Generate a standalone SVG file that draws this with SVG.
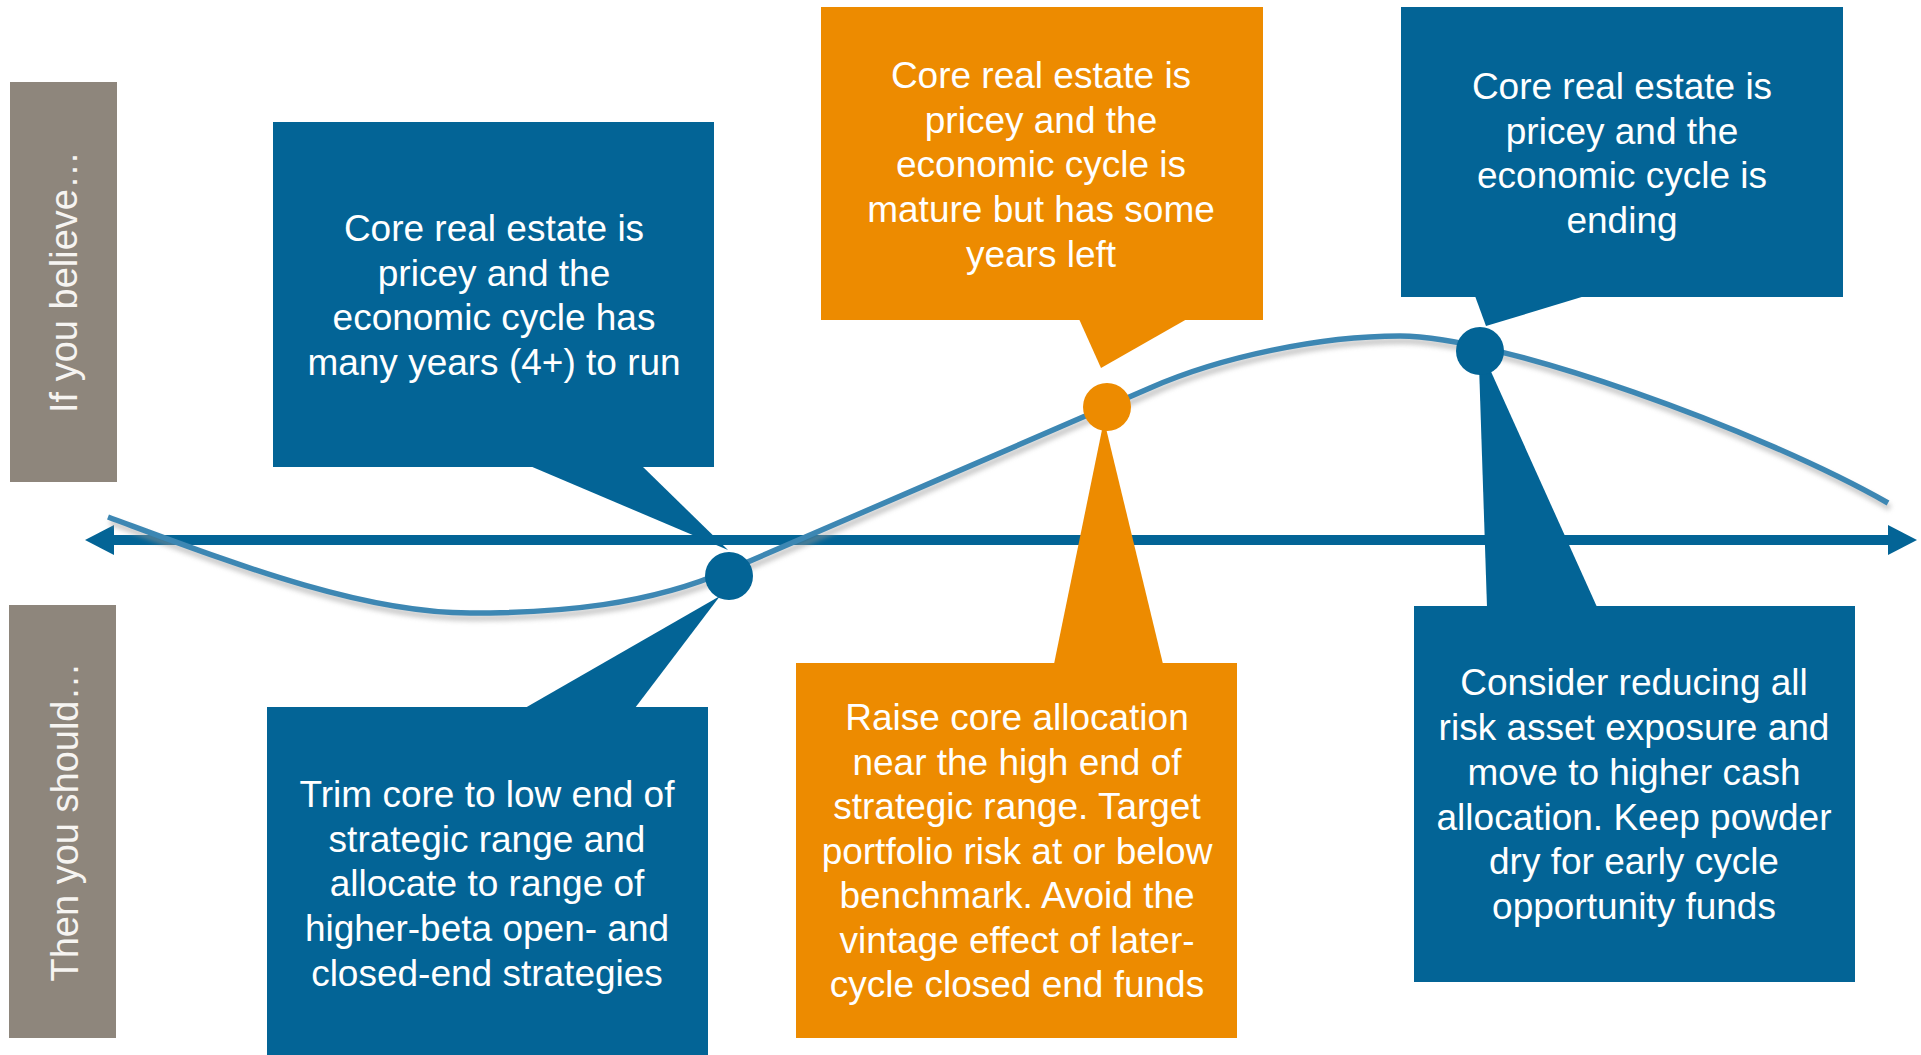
<svg xmlns="http://www.w3.org/2000/svg" width="1921" height="1055" viewBox="0 0 1921 1055">
<style>
.bg{fill:#ffffff}
.side{fill:#8e867c}
.sidet{fill:#f6f4f1;font-family:"Liberation Sans",Arial,sans-serif;font-size:38px;text-anchor:middle}
.blue{fill:#036496}
.orange{fill:#ed8b00}
.t{fill:#ffffff;font-family:"Liberation Sans",Arial,sans-serif;font-size:37px;text-anchor:middle}
.axis{stroke:#036496;stroke-width:10;fill:none}
.curve{stroke:#3d87b3;stroke-width:5.5;fill:none}
.shadow{stroke:#9a9a9a;stroke-width:6;fill:none;opacity:0.55}
</style>
<defs>
<marker id="arr" viewBox="0 0 29 30" refX="1" refY="15" markerWidth="29" markerHeight="30" markerUnits="userSpaceOnUse" orient="auto-start-reverse">
<path d="M0,0 L29,15 L0,30 z" fill="#036496"/>
</marker>
<filter id="blur" x="-5%" y="-20%" width="110%" height="140%">
<feGaussianBlur stdDeviation="2.5"/>
</filter>
</defs>
<rect class="bg" x="0" y="0" width="1921" height="1055"/>

<g id="label-believe">
<rect class="side" x="10" y="82" width="107" height="400"/>
<text class="sidet" transform="translate(77,282) rotate(-90)">If you believe…</text>
</g>
<g id="label-should">
<rect class="side" x="9" y="605" width="107" height="433"/>
<text class="sidet" transform="translate(78,822) rotate(-90)">Then you should…</text>
</g>

<g id="connectors">
<line class="axis" x1="113" y1="540" x2="1889" y2="540" marker-start="url(#arr)" marker-end="url(#arr)"/>
<path class="shadow" filter="url(#blur)" transform="translate(2,5)" d="M108,517 C230,562 360,613 470,613 C560,613 649,605 729,570 C860,513 1020,445 1150,388 C1220,357 1320,336 1400,336 C1500,336 1760,430 1888,503"/>
<path class="curve" d="M108,517 C230,562 360,613 470,613 C560,613 649,605 729,570 C860,513 1020,445 1150,388 C1220,357 1320,336 1400,336 C1500,336 1760,430 1888,503"/>
</g>

<g id="belief-early">
<polygon class="blue" points="530,466 642,466 728,550"/>
<rect class="blue" x="273" y="122" width="441" height="345"/>
<text class="t"><tspan x="494" y="241">Core real estate is</tspan><tspan x="494" y="286">pricey and the</tspan><tspan x="494" y="330">economic cycle has</tspan><tspan x="494" y="375">many years (4+) to run</tspan></text>
</g>

<g id="action-early">
<polygon class="blue" points="525,708 635,708 720,596"/>
<rect class="blue" x="267" y="707" width="441" height="348"/>
<text class="t"><tspan x="487" y="807">Trim core to low end of</tspan><tspan x="487" y="852">strategic range and</tspan><tspan x="487" y="896">allocate to range of</tspan><tspan x="487" y="941">higher-beta open- and</tspan><tspan x="487" y="986">closed-end strategies</tspan></text>
</g>

<g id="belief-mid">
<polygon class="orange" points="1079,319 1187,319 1101,368"/>
<rect class="orange" x="821" y="7" width="442" height="313"/>
<text class="t"><tspan x="1041" y="88">Core real estate is</tspan><tspan x="1041" y="133">pricey and the</tspan><tspan x="1041" y="177">economic cycle is</tspan><tspan x="1041" y="222">mature but has some</tspan><tspan x="1041" y="267">years left</tspan></text>
</g>

<g id="action-mid">
<polygon class="orange" points="1054,664 1163,664 1104,420"/>
<rect class="orange" x="796" y="663" width="441" height="375"/>
<text class="t"><tspan x="1017" y="730">Raise core allocation</tspan><tspan x="1017" y="775">near the high end of</tspan><tspan x="1017" y="819">strategic range. Target</tspan><tspan x="1017" y="864">portfolio risk at or below</tspan><tspan x="1017" y="908">benchmark. Avoid the</tspan><tspan x="1017" y="953">vintage effect of later-</tspan><tspan x="1017" y="997">cycle closed end funds</tspan></text>
</g>

<g id="belief-late">
<polygon class="blue" points="1475,296 1585,296 1486,326"/>
<rect class="blue" x="1401" y="7" width="442" height="290"/>
<text class="t"><tspan x="1622" y="99">Core real estate is</tspan><tspan x="1622" y="144">pricey and the</tspan><tspan x="1622" y="188">economic cycle is</tspan><tspan x="1622" y="233">ending</tspan></text>
</g>

<g id="action-late">
<polygon class="blue" points="1479,365 1487,607 1597,607 1488,365"/>
<rect class="blue" x="1414" y="606" width="441" height="376"/>
<text class="t"><tspan x="1634" y="695">Consider reducing all</tspan><tspan x="1634" y="740">risk asset exposure and</tspan><tspan x="1634" y="785">move to higher cash</tspan><tspan x="1634" y="830">allocation. Keep powder</tspan><tspan x="1634" y="874">dry for early cycle</tspan><tspan x="1634" y="919">opportunity funds</tspan></text>
</g>

<g id="dots">
<circle class="blue" cx="729" cy="576" r="24"/>
<circle class="orange" cx="1107" cy="407" r="24"/>
<circle class="blue" cx="1480" cy="351" r="24"/>
</g>
</svg>
